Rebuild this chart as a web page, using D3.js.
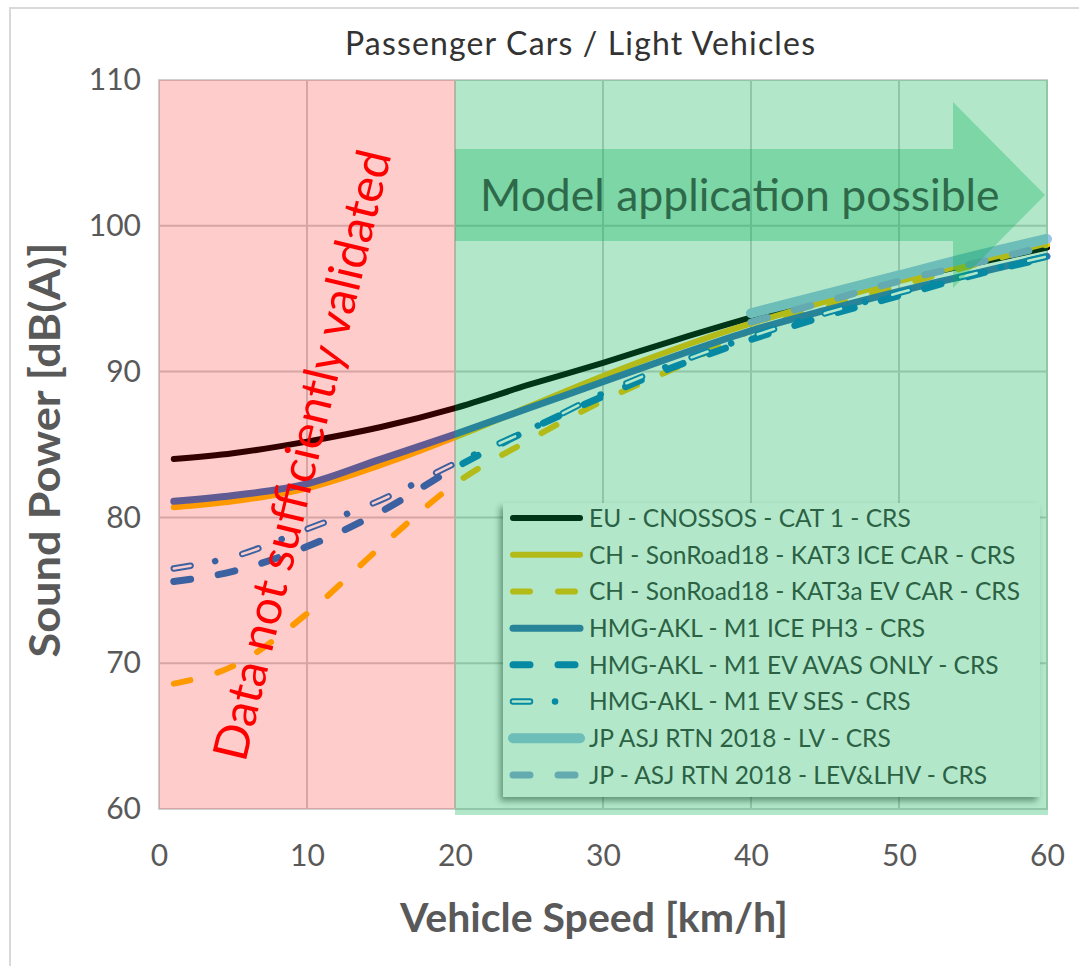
<!DOCTYPE html>
<meta charset="utf-8">
<html>
<head>
<style>
  body { margin: 0; background: #fff; }
  text { font-family: Lato, "Open Sans", sans-serif; }
</style>
<script src="https://d3js.org/d3.v7.min.js"></script>
</head>
<body>
<svg width="1079" height="966"></svg>
<script>

// speeds in km/h, values in dB(A)
var speeds   = [1, 5, 10, 15, 20, 25, 30, 35, 40, 45, 50, 55, 60];
var speedsJP = [40, 45, 50, 55, 60];

var euCnossos = [84.0, 84.4, 85.2, 86.2, 87.5, 89.1, 90.6, 92.2, 93.7, 95.0, 96.3, 97.4, 98.5];
var chKat3Ice = [80.7, 81.1, 82.0, 83.6, 85.5, 87.6, 89.7, 91.6, 93.3, 94.8, 96.2, 97.5, 98.8];
var chKat3aEv = [68.6, 69.8, 73.4, 78.0, 82.3, 85.3, 88.0, 90.3, 92.8, 94.4, 95.9, 97.3, 98.7];
var hmgIcePh3 = [81.1, 81.5, 82.3, 84.0, 85.7, 87.5, 89.3, 91.1, 92.8, 94.2, 95.5, 96.7, 97.9];
var hmgAvas   = [75.6, 76.3, 78.0, 80.4, 83.4, 86.0, 88.3, 90.4, 92.2, 93.8, 95.2, 96.6, 97.8];
var hmgSes    = [76.5, 77.3, 79.2, 81.2, 83.7, 86.0, 88.5, 90.6, 92.4, 94.0, 95.4, 96.7, 97.9];
var jpLv      = [94.0, 95.3, 96.6, 97.9, 99.1];
var jpLevLhv  = [93.4, 94.8, 96.2, 97.4, 98.6];

var seriesNames = [
  "EU - CNOSSOS - CAT 1 - CRS",
  "CH - SonRoad18 - KAT3 ICE CAR - CRS",
  "CH - SonRoad18 - KAT3a EV CAR - CRS",
  "HMG-AKL - M1 ICE PH3 - CRS",
  "HMG-AKL - M1 EV AVAS ONLY - CRS",
  "HMG-AKL - M1 EV SES - CRS",
  "JP ASJ RTN 2018 - LV - CRS",
  "JP - ASJ RTN 2018 - LEV&LHV - CRS"
];

var xTicks = [0, 10, 20, 30, 40, 50, 60];
var yTicks = [60, 70, 80, 90, 100, 110];
var validLimit = 20;

// styles, one per series
var styles = [
  {color: "#000000", width: 6, dash: null},
  {color: "#ffc000", width: 6, dash: null},
  {color: "#ffc000", width: 6, dash: "17,28"},
  {color: "#3a72b8", width: 7, dash: null},
  {color: "#0a7ac8", width: 7, dash: "17,28"},
  {color: "#0a7ac8", width: 6.5, dash: "17,25,0.1,28", hollow: true},
  {color: "#9dc3e6", width: 10, dash: null},
  {color: "#8faadc", width: 7, dash: "17,28"}
];

function pairs(xs, vs) {
  return xs.map(function(s, i) { return {s: s, v: vs[i]}; });
}

var series = [
  pairs(speeds, euCnossos),
  pairs(speeds, chKat3Ice),
  pairs(speeds, chKat3aEv),
  pairs(speeds, hmgIcePh3),
  pairs(speeds, hmgAvas),
  pairs(speeds, hmgSes),
  pairs(speedsJP, jpLv),
  pairs(speedsJP, jpLevLhv)
];

var svg = d3.select("svg");
var plotLeft = 159, plotRight = 1047, plotTop = 80, plotBottom = 809;

var x = d3.scaleLinear().domain([0, 60]).range([plotLeft, plotRight]);
var y = d3.scaleLinear().domain([60, 110]).range([plotBottom, plotTop]);

var defs = svg.append("defs");
defs.append("filter").attr("id", "shadow")
    .attr("x", "-10%").attr("y", "-10%").attr("width", "120%").attr("height", "125%")
  .append("feDropShadow")
    .attr("dx", -3).attr("dy", 4).attr("stdDeviation", 3)
    .attr("flood-color", "#000").attr("flood-opacity", 0.45);

// chart frame
svg.append("rect")
    .attr("x", 10).attr("y", 8).attr("width", 1100).attr("height", 1000)
    .attr("fill", "#fff").attr("stroke", "#d9d9d9").attr("stroke-width", 2);

// grid
var grid = svg.append("g").attr("stroke", "#cfcfcf").attr("stroke-width", 2);
grid.selectAll(".gx").data(xTicks.slice(1, -1)).enter().append("line")
    .attr("x1", x).attr("x2", x).attr("y1", plotTop).attr("y2", plotBottom);
grid.selectAll(".gy").data(yTicks.slice(1, -1)).enter().append("line")
    .attr("x1", plotLeft).attr("x2", plotRight).attr("y1", y).attr("y2", y);

svg.append("rect")
    .attr("x", plotLeft).attr("y", plotTop)
    .attr("width", plotRight - plotLeft).attr("height", plotBottom - plotTop)
    .attr("fill", "none").attr("stroke", "#d0d0d0").attr("stroke-width", 2);

// lines
var line = d3.line()
    .x(function(d) { return x(d.s); })
    .y(function(d) { return y(d.v); })
    .curve(d3.curveMonotoneX);

function drawPath(g, d, st) {
  var p = g.append("path")
      .attr("d", d)
      .attr("fill", "none")
      .attr("stroke", st.color)
      .attr("stroke-width", st.width)
      .attr("stroke-linecap", "round")
      .attr("stroke-linejoin", "round");
  if (st.dash) p.attr("stroke-dasharray", st.dash);
  if (st.hollow) {
    g.append("path")
        .attr("d", d)
        .attr("fill", "none")
        .attr("stroke", "#ffffff")
        .attr("stroke-width", 2.6)
        .attr("stroke-linecap", "round")
        .attr("stroke-dasharray", "17,53.1");
  }
}

var lines = svg.append("g");
series.forEach(function(data, i) {
  drawPath(lines, line(data), styles[i]);
});

// legend
var lg = svg.append("g");
lg.append("rect")
    .attr("x", 503).attr("y", 503).attr("width", 537).attr("height", 294)
    .attr("fill", "#ffffff").attr("filter", "url(#shadow)");

var legendY = d3.scalePoint().domain(d3.range(seriesNames.length)).range([518, 775]);
seriesNames.forEach(function(name, i) {
  var yy = legendY(i);
  drawPath(lg, "M513," + yy + "H580", styles[i]);
  lg.append("text")
      .attr("x", 589).attr("y", yy)
      .attr("dy", "0.36em")
      .attr("font-size", "24.5px")
      .attr("fill", "#404040")
      .text(name);
});

// zones
svg.append("rect")
    .attr("x", x(0)).attr("y", plotTop)
    .attr("width", x(validLimit) - x(0)).attr("height", plotBottom - plotTop)
    .attr("fill", "rgba(255,0,0,0.2)");
svg.append("rect")
    .attr("x", x(validLimit)).attr("y", plotTop)
    .attr("width", x(60) - x(validLimit) + 1).attr("height", plotBottom - plotTop + 6)
    .attr("fill", "rgba(0,176,80,0.3)");

// arrow
var ax0 = x(validLimit), ax1 = 953, tip = 1045, cy = 195;
svg.append("path")
    .attr("d", "M" + ax0 + "," + (cy - 46) + "H" + ax1 + "V" + (cy - 93) +
               "L" + tip + "," + cy + "L" + ax1 + "," + (cy + 93) +
               "V" + (cy + 46) + "H" + ax0 + "Z")
    .attr("fill", "rgba(0,176,80,0.3)");

svg.append("text")
    .attr("x", 480).attr("y", 211)
    .attr("font-size", "44.5px")
    .attr("fill", "#2e6a4a")
    .text("Model application possible");

svg.append("text")
    .attr("transform", "translate(302,455) rotate(-76.5)")
    .attr("text-anchor", "middle")
    .attr("dy", "0.35em")
    .attr("font-family", "'Noto Sans', sans-serif")
    .attr("font-size", "48px")
    .attr("fill", "#ff0000")
    .text("Data not sufficiently validated");

// axes
var xAxis = svg.append("g")
    .attr("transform", "translate(0," + plotBottom + ")")
    .call(d3.axisBottom(x).tickValues(xTicks).tickSize(0).tickPadding(36));
var yAxis = svg.append("g")
    .attr("transform", "translate(" + plotLeft + ",0)")
    .call(d3.axisLeft(y).tickValues(yTicks).tickSize(0).tickPadding(18));
[xAxis, yAxis].forEach(function(a) {
  a.select(".domain").remove();
  a.selectAll("text")
      .attr("font-family", "Lato, sans-serif")
      .attr("font-size", "30px")
      .attr("fill", "#595959");
});

svg.append("text")
    .attr("x", 580).attr("y", 55)
    .attr("text-anchor", "middle")
    .attr("font-size", "32px")
    .attr("textLength", 470)
    .attr("lengthAdjust", "spacing")
    .attr("fill", "#333333")
    .text("Passenger Cars / Light Vehicles");

svg.append("text")
    .attr("x", 594).attr("y", 932)
    .attr("text-anchor", "middle")
    .attr("font-size", "41px")
    .attr("font-weight", "bold")
    .attr("fill", "#595959")
    .text("Vehicle Speed [km/h]");

svg.append("text")
    .attr("transform", "translate(60,450) rotate(-90)")
    .attr("text-anchor", "middle")
    .attr("font-size", "42px")
    .attr("font-weight", "bold")
    .attr("textLength", 415)
    .attr("lengthAdjust", "spacingAndGlyphs")
    .attr("fill", "#595959")
    .text("Sound Power [dB(A)]");

</script>
</body>
</html>
